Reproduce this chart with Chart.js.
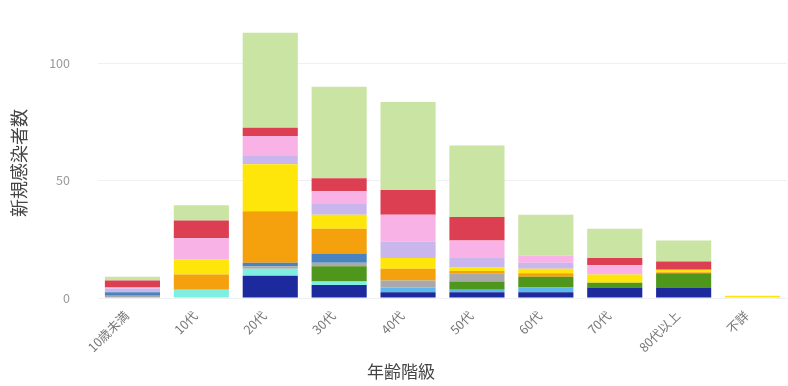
<!DOCTYPE html>
<html><head><meta charset="utf-8">
<script src="https://cdn.jsdelivr.net/npm/chart.js@4/dist/chart.umd.min.js"></script>
<style>html,body{margin:0;padding:0;background:#fff}#wrap{width:788px;height:386px}</style>
</head><body><div id="wrap"><canvas id="c" width="788" height="386"></canvas></div>
<script>
const categories = ['10歳未満','10代','20代','30代','40代','50代','60代','70代','80代以上','不詳'];
const seriesNames = ['区分1','区分2','区分3','区分4','区分5','区分6','区分7','区分8','区分9','区分10','区分11','区分12'];
const seriesColors = ['#1c2a9e','#80efe2','#5cb8ec','#4f961c','#a9a9a9','#4a84c0','#f5a10d','#ffe60a','#c9b6ec','#f9b2e6','#dc3f52','#c9e4a3'];
const s1  = [0,   0,   9.5, 5.5, 2.5, 2.5, 2.5, 4.5, 4.5, 0];
const s2  = [0,   3.5, 3,   1.5, 0,   0,   0,   0,   0,   0];
const s3  = [0,   0,   0,   0,   2,   1,   2,   0,   0,   0];
const s4  = [0,   0,   0,   6.5, 0,   3.5, 4.5, 2,   6,   0];
const s5  = [1,   0,   1,   1.5, 3,   3.5, 0,   0,   0,   0];
const s6  = [1.5, 0,   1.5, 4,   0,   0,   0,   0,   0,   0];
const s7  = [0,   6.5, 22,  10.5,5,   1,   1.5, 0,   0.5, 0];
const s8  = [0,   6.5, 20,  6,   4.5, 1.5, 2,   3.5, 1,   1];
const s9  = [1.5, 0,   3.5, 4.5, 7,   4,   2.5, 0,   0,   0];
const s10 = [0.5, 9,   8.5, 5.5, 11.5,7.5, 3,   4,   0,   0];
const s11 = [3,   7.5, 3.5, 5.5, 10.5,10,  0,   3,   3.5, 0];
const s12 = [1.5, 6.5, 40.5,39,  37.5,30.5,17.5,12.5,9,   0];
const seriesValues = [s1,s2,s3,s4,s5,s6,s7,s8,s9,s10,s11,s12];
const yTicks = [0,50,100];
const xTitle = '年齢階級';
const yTitle = '新規感染者数';

const datasets = seriesValues.map((v,i)=>({
  label: seriesNames[i], data: v, backgroundColor: seriesColors[i], borderWidth: 0,
  barPercentage: 0.8, categoryPercentage: 1.0
}));
const font = "'Noto Sans CJK JP','Noto Sans',sans-serif";
const xTitlePlugin = {
  id: 'xTitle',
  afterDraw(chart) {
    const ctx = chart.ctx;
    ctx.save();
    ctx.font = "17px " + font;
    ctx.fillStyle = '#444';
    ctx.textAlign = 'center';
    ctx.textBaseline = 'middle';
    ctx.fillText(xTitle, 401, 372);
    ctx.restore();
  }
};
new Chart(document.getElementById('c'), {
  type: 'bar',
  data: { labels: categories, datasets },
  plugins: [xTitlePlugin],
  options: {
    responsive: false, animation: false,
    layout: { padding: { top: 28, right: 1, left: 0, bottom: 0 } },
    plugins: { legend: { display: false }, tooltip: { enabled: false } },
    scales: {
      x: {
        stacked: true,
        grid: { display: false }, border: { display: false },
        ticks: { color: '#777', font: { family: font, size: 12.5 }, minRotation: 45, maxRotation: 45, padding: 2, labelOffset: -6 },
        title: { display: false },
        afterFit: s => { s.height = 88; }
      },
      y: {
        stacked: true, min: 0, max: 115,
        afterBuildTicks: s => { s.ticks = yTicks.map(v => ({ value: v })); },
        grid: { color: '#eef0f4', drawTicks: false }, border: { display: false },
        ticks: { color: '#999', font: { family: font, size: 12.5 }, padding: 28 },
        title: { display: true, text: yTitle, color: '#444', font: { family: font, size: 18 }, padding: { top: 8, bottom: 0 } },
        afterFit: s => { s.width = 98; s.paddingTop = 0; s.paddingBottom = 0; }
      }
    }
  }
});
</script></body></html>
